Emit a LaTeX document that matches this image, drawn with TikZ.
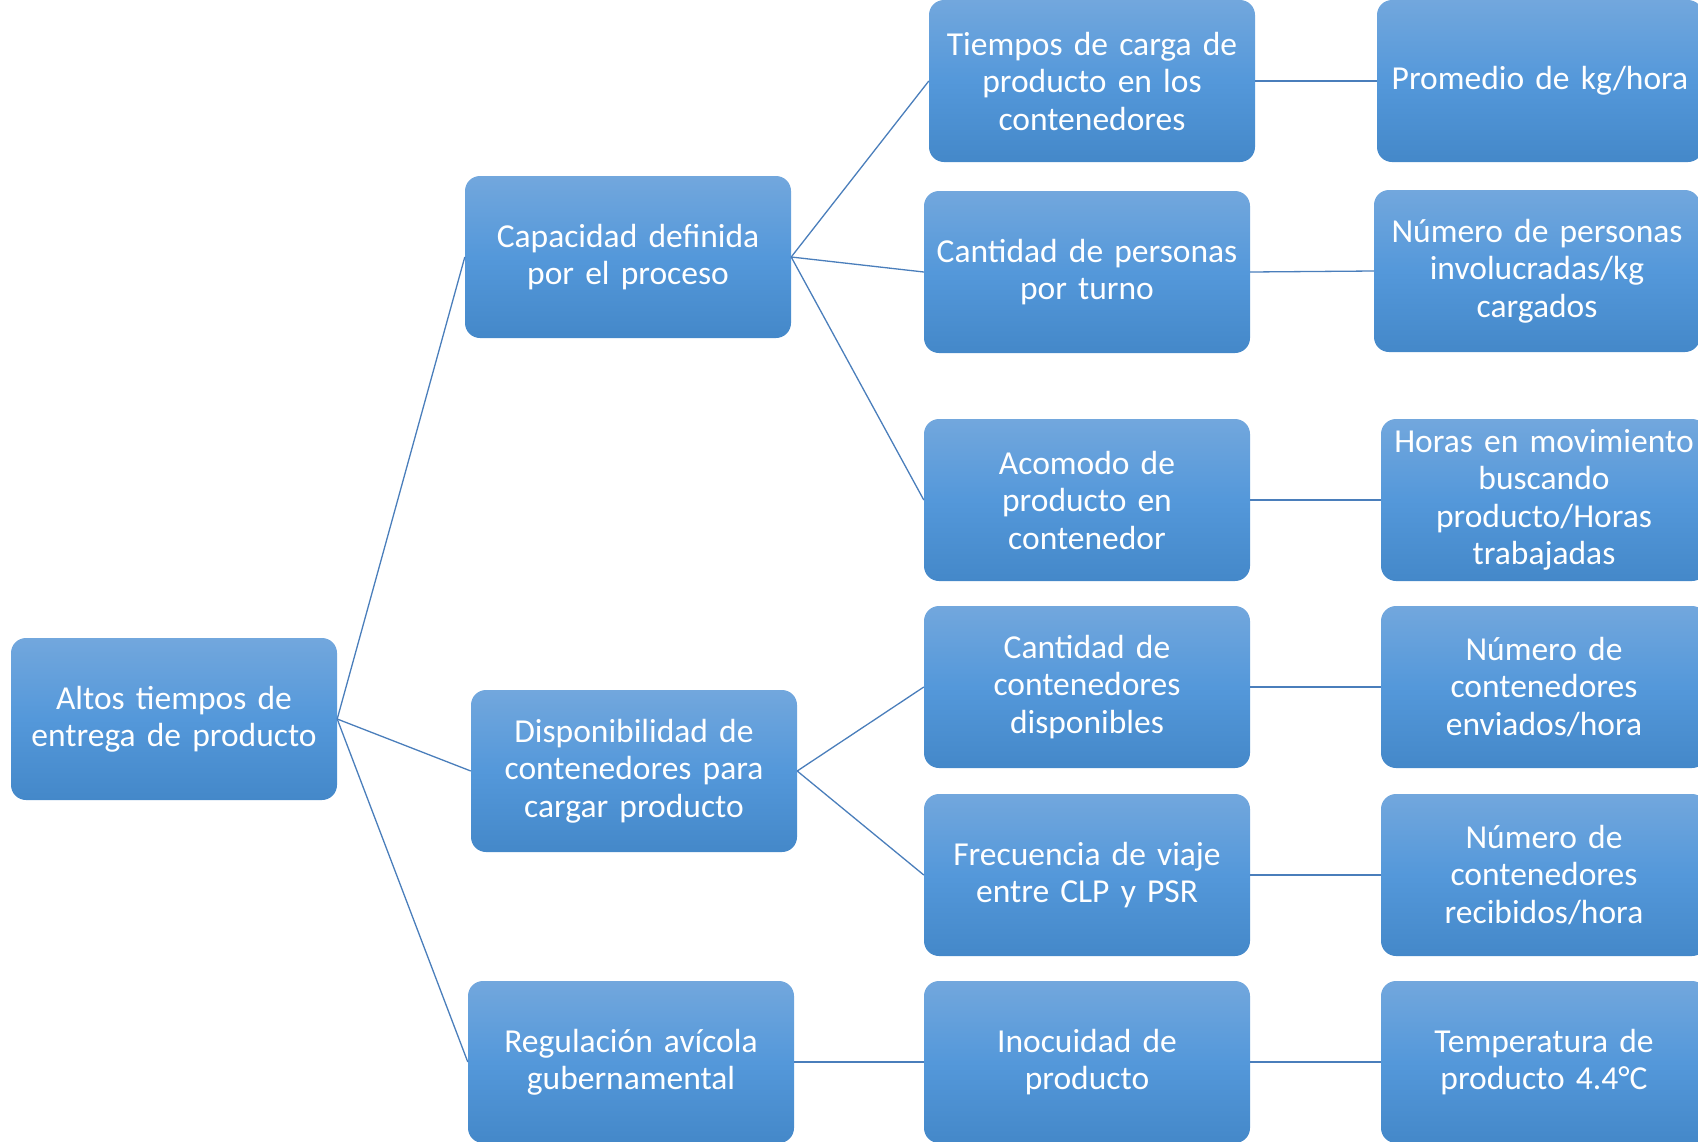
\documentclass[tikz,border=0pt]{standalone}
\usepackage{fontspec}
\setmainfont{Carlito}
\definecolor{boxtop}{RGB}{114,167,221}
\definecolor{boxmid}{RGB}{84,152,218}
\definecolor{boxbot}{RGB}{68,136,201}
\definecolor{linecol}{RGB}{74,126,187}
\tikzset{
  box/.style={rounded corners=15pt, top color=boxtop, bottom color=boxbot, middle color=boxmid,
    minimum width=326pt, minimum height=162pt, text width=320pt, inner sep=0pt,
    align=center, text=white, font=\fontsize{33.5}{37.5}\selectfont},
  conn/.style={draw=linecol, line width=1.3pt}
}
\begin{document}
\begin{tikzpicture}[x=1pt,y=-1pt]
\useasboundingbox (0,0) rectangle (1698,1141);
\clip (0,0) rectangle (1698,1141);
\node[box] (root) at (174,719) {Altos tiempos de\\entrega de producto};
\node[box] (cap) at (628,257) {Capacidad definida\\por el proceso};
\node[box] (disp) at (634,771) {Disponibilidad de\\contenedores para\\cargar producto};
\node[box] (reg) at (631,1062) {Regulación avícola\\gubernamental};
\node[box] (tie) at (1092,81) {Tiempos de carga de\\producto en los\\contenedores};
\node[box] (per) at (1087,272) {Cantidad de personas\\por turno};
\node[box] (aco) at (1087,500) {Acomodo de\\producto en\\contenedor};
\node[box] (cco) at (1087,687) {Cantidad de\\contenedores\\disponibles};
\node[box] (fre) at (1087,875) {Frecuencia de viaje\\entre CLP y PSR};
\node[box] (ino) at (1087,1062) {Inocuidad de\\producto};
\node[box] (pro) at (1540,81) {Promedio de kg/hora};
\node[box] (npe) at (1537,271) {Número de personas\\involucradas/kg\\cargados};
\node[box] (hor) at (1544,500) {Horas en movimiento\\buscando\\producto/Horas\\trabajadas};
\node[box] (nen) at (1544,687) {Número de\\contenedores\\enviados/hora};
\node[box] (nre) at (1544,875) {Número de\\contenedores\\recibidos/hora};
\node[box] (tem) at (1544,1062) {Temperatura de\\producto 4.4°C};
\draw[conn] (root.east) -- (cap.west);
\draw[conn] (root.east) -- (disp.west);
\draw[conn] (root.east) -- (reg.west);
\draw[conn] (cap.east) -- (tie.west);
\draw[conn] (cap.east) -- (per.west);
\draw[conn] (cap.east) -- (aco.west);
\draw[conn] (disp.east) -- (cco.west);
\draw[conn] (disp.east) -- (fre.west);
\draw[conn] (reg.east) -- (ino.west);
\draw[conn] (tie.east) -- (pro.west);
\draw[conn] (per.east) -- (npe.west);
\draw[conn] (aco.east) -- (hor.west);
\draw[conn] (cco.east) -- (nen.west);
\draw[conn] (fre.east) -- (nre.west);
\draw[conn] (ino.east) -- (tem.west);
\end{tikzpicture}
\end{document}
